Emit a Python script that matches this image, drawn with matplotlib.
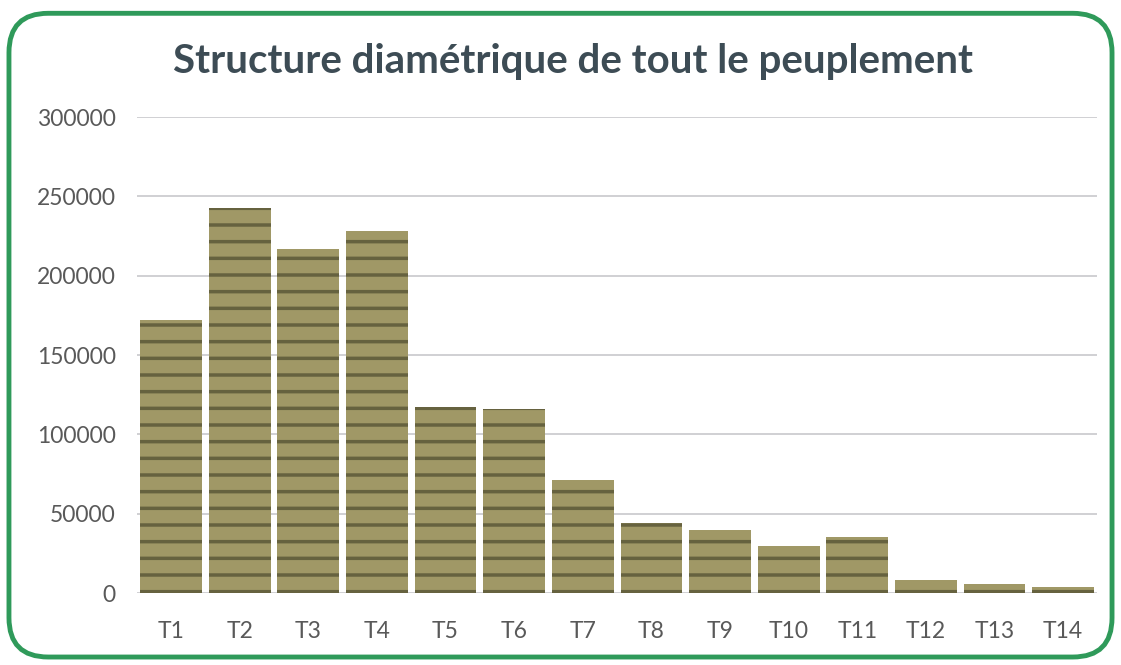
import matplotlib
matplotlib.use('Agg')
import matplotlib.pyplot as plt
from matplotlib.patches import FancyBboxPatch

# classes de diametre et effectifs
categories = ['T1', 'T2', 'T3', 'T4', 'T5', 'T6', 'T7', 'T8', 'T9', 'T10', 'T11', 'T12', 'T13', 'T14']
effectifs = [172000, 243000, 217000, 228000, 117000, 116000, 71000, 44500, 40000, 30000, 35500, 8200, 5700, 3800]
yticks = [0, 50000, 100000, 150000, 200000, 250000, 300000]

plt.rcParams['font.family'] = ['Lato', 'DejaVu Sans']
plt.rcParams['hatch.linewidth'] = 2.5

fig = plt.figure(figsize=(11.21, 6.65), dpi=100)
fig.patch.set_facecolor('white')

# cadre vert arrondi
border = FancyBboxPatch((0.008, 0.012), 0.984, 0.968, boxstyle='round,pad=0,rounding_size=0.035',
                        transform=fig.transFigure, facecolor='none', edgecolor='#2f9a5a',
                        linewidth=3.5, mutation_aspect=1121 / 665, zorder=5)
fig.patches.append(border)

ax = fig.add_axes([0.122, 0.108, 0.857, 0.716])
ax.set_facecolor('none')
x = list(range(len(categories)))
ax.bar(x, effectifs, width=0.9, color='#a09866', edgecolor='#66623f', hatch='-',
       linewidth=0, zorder=3)
ax.set_xlim(-0.5, len(categories) - 0.5)
ax.set_ylim(0, 300000)
ax.set_yticks(yticks)
ax.set_yticklabels([str(v) for v in yticks])
ax.set_xticks(x)
ax.set_xticklabels(categories)
ax.grid(axis='y', color='#c8c8cc', linewidth=1.2, zorder=0)
for s in ax.spines.values():
    s.set_visible(False)
ax.tick_params(length=0, labelsize=16.5, labelcolor='#595959')
ax.tick_params(axis='y', pad=15)
ax.tick_params(axis='x', pad=20)

fig.text(0.511, 0.908, 'Structure diamétrique de tout le peuplement', ha='center', va='center',
         fontsize=29, fontweight='bold', color='#3d4c55')

fig.savefig('out.png', dpi=100)
